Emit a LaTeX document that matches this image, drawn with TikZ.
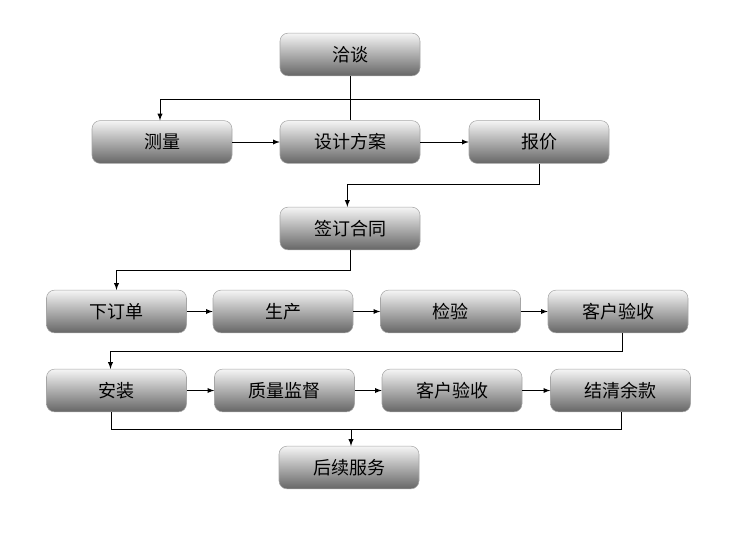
\documentclass[tikz,border=0pt]{standalone}
\usepackage{fontspec}
\setmainfont{Noto Sans CJK SC}
\begin{document}
\begin{tikzpicture}[x=0.75pt,y=-0.75pt,
  stepbox/.style={draw=black!35,rounded corners=6pt,minimum width=105pt,minimum height=32pt,
    inner sep=0pt,top color=black!4,bottom color=black!60,font=\fontsize{13.5}{16}\selectfont},
  link/.style={line width=0.75pt,-latex},
  line/.style={line width=0.75pt}]
  \useasboundingbox (0,0) rectangle (750,535);

  \node[stepbox] (qiatan) at (350,54.5) {洽谈};
  \node[stepbox] (celiang) at (162,142) {测量};
  \node[stepbox] (sheji) at (350,142) {设计方案};
  \node[stepbox] (baojia) at (539,142) {报价};
  \node[stepbox] (qianding) at (350,228.5) {签订合同};
%
  \node[stepbox] (xiadan) at (116.5,311.5) {下订单};
  \node[stepbox] (shengchan) at (283,311.5) {生产};
  \node[stepbox] (jianyan) at (450.5,311.5) {检验};
  \node[stepbox] (yanshou) at (618,311.5) {客户验收};
%
  \node[stepbox] (anzhuang) at (116.5,390.5) {安装};
  \node[stepbox] (jiandu) at (284.5,390.5) {质量监督};
  \node[stepbox] (yanshoub) at (452,390.5) {客户验收};
  \node[stepbox] (jieqing) at (620.5,390.5) {结清余款};
%
  \node[stepbox] (houxu) at (349,467.5) {后续服务};

  % top split
  \coordinate (split) at (350,99.5);
  \draw[line] (qiatan) -- (sheji);
  \draw[link] (split) -| ([xshift=-1.5pt]celiang.north);
  \draw[line] (split) -| (baojia.north);
  \draw[link] (celiang) -- (sheji);
  \draw[link] (sheji) -- (baojia);

  \draw[link] (baojia.south) -- ++(0,20.5) -| ([xshift=-2pt]qianding.north);
  \draw[link] (qianding.south) -- ++(0,20) -| (xiadan.north);

  \foreach \a/\b in {xiadan/shengchan,shengchan/jianyan,jianyan/yanshou,
                     anzhuang/jiandu,jiandu/yanshoub,yanshoub/jieqing}
    \draw[link] (\a) -- (\b);

  \draw[link] ([xshift=3pt]yanshou.south) -- ++(0,18.5) -| ([xshift=-4.5pt]anzhuang.north);

  % bottom join
  \coordinate (join) at (351,429.5);
  \draw[line] ([xshift=-4pt]anzhuang.south) |- (join) -| ([xshift=1pt]jieqing.south);
  \draw[link] (join) -- (join |- houxu.north);
\end{tikzpicture}
\end{document}
